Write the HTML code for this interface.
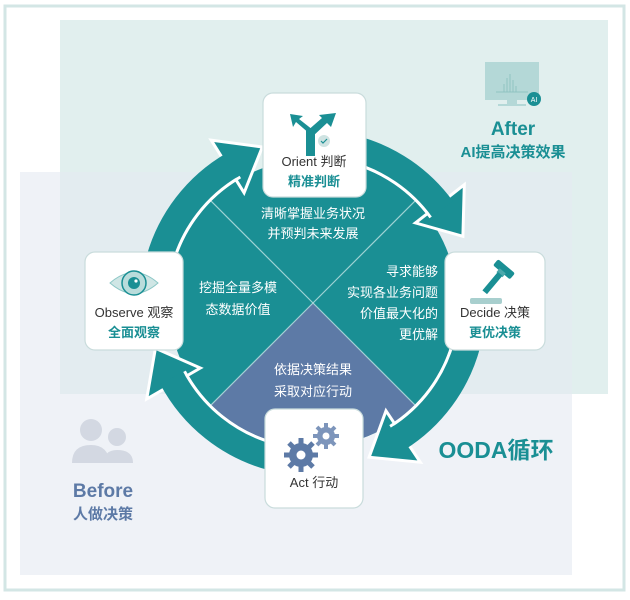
<!DOCTYPE html>
<html><head><meta charset="utf-8"><style>
body{margin:0;width:630px;height:595px;background:#fff;overflow:hidden;font-family:"Liberation Sans","Noto Sans CJK SC",sans-serif}
svg text{font-family:"Liberation Sans","Noto Sans CJK SC",sans-serif}
</style></head><body>
<svg width="630" height="595" viewBox="0 0 630 595" xmlns="http://www.w3.org/2000/svg">
<rect x="5" y="6" width="619" height="584" fill="#fff" stroke="#d3e6e5" stroke-width="3"/>
<rect x="60" y="20" width="548" height="374" fill="#e1efee"/>
<rect x="20" y="172" width="552" height="403" fill="#e4e9f2" fill-opacity="0.6"/>
<!-- disk -->
<circle cx="313" cy="303" r="144" fill="#1a8f94"/>
<path d="M313 303 L414.8 404.8 A144 144 0 0 1 211.2 404.8 Z" fill="#5d7aa6"/>
<g stroke="#bfe3e3" stroke-width="1.2" stroke-opacity="0.8">
<line x1="313" y1="303" x2="211.2" y2="201.2"/><line x1="313" y1="303" x2="414.8" y2="201.2"/>
<line x1="313" y1="303" x2="211.2" y2="404.8"/><line x1="313" y1="303" x2="414.8" y2="404.8"/>
</g>
<!-- arrowheads (white outline) -->
<g fill="#1a8f94" stroke="#ffffff" stroke-width="3" stroke-linejoin="miter">
<polygon points="244.1,192.8 211.2,140.2 262.3,147"/>
<polygon points="415.4,222.9 464.3,184.7 462.9,236.3"/>
<polygon points="386,410.8 420.3,462.2 369.1,457.2"/>
<polygon points="200.4,368 146.7,399 155.4,348.3"/>
</g>
<!-- white gap between ring and disk -->
<g fill="none" stroke="#ffffff" stroke-width="3">
<path d="M172.5 265.3 A145.5 145.5 0 0 1 240.3 177"/>
<path d="M350.7 162.5 A145.5 145.5 0 0 1 430.7 217.4"/>
<path d="M453.5 340.7 A145.5 145.5 0 0 1 390.1 426.4"/>
<path d="M275.3 443.5 A145.5 145.5 0 0 1 184.5 371.3"/>
</g>
<!-- ring arcs -->
<g fill="none" stroke="#1a8f94" stroke-width="26">
<path d="M158.5 261.6 A160 160 0 0 1 233 164.4"/>
<path d="M354.4 148.5 A160 160 0 0 1 442.4 208.9"/>
<path d="M467.5 344.4 A160 160 0 0 1 397.8 438.7"/>
<path d="M271.6 457.5 A160 160 0 0 1 171.7 378.1"/>
</g>
<!-- inner text -->
<g fill="#fff" font-size="13" text-anchor="middle">
<text x="313" y="218">清晰掌握业务状况</text><text x="313" y="238">并预判未来发展</text>
<text x="238" y="292">挖掘全量多模</text><text x="238" y="314">态数据价值</text>
<text x="313" y="374">依据决策结果</text><text x="313" y="396">采取对应行动</text>
</g>
<g fill="#fff" font-size="13" text-anchor="end">
<text x="438" y="276">寻求能够</text><text x="438" y="297">实现各业务问题</text>
<text x="438" y="318">价值最大化的</text><text x="438" y="339">更优解</text>
</g>
<!-- boxes -->
<g fill="#fff" stroke="#c9dcdc" stroke-width="1.2">
<rect x="263" y="93" width="103" height="104" rx="10"/>
<rect x="85" y="252" width="98" height="98" rx="10"/>
<rect x="445" y="252" width="100" height="98" rx="10"/>
<rect x="265" y="409" width="98" height="99" rx="10"/>
</g>
<!-- orient icon -->
<g fill="#1a8f94">
<rect x="306" y="130" width="9" height="26"/>
<polygon points="310,134 296,122 293,127 290,114 303,116 299,119 313,130"/>
<polygon points="306,132 322,118 319,115 336,113 331,127 327,123 312,137"/>
<circle cx="324" cy="141" r="6" fill="#cfe3e2"/>
</g>
<path d="M321 141 l2 2 l4 -4" stroke="#1a8f94" stroke-width="1.2" fill="none"/>
<g font-size="13" text-anchor="middle">
<text x="314" y="166" fill="#333">Orient 判断</text>
<text x="314" y="186" fill="#1a8f94" font-weight="bold">精准判断</text>
<text x="134" y="317" fill="#333">Observe 观察</text>
<text x="134" y="337" fill="#1a8f94" font-weight="bold">全面观察</text>
<text x="495" y="317" fill="#333">Decide 决策</text>
<text x="495" y="337" fill="#1a8f94" font-weight="bold">更优决策</text>
<text x="314" y="487" fill="#333">Act 行动</text>
</g>
<!-- eye -->
<path d="M110 283 Q134 262 158 283 Q134 304 110 283 Z" fill="#cfe6e5" stroke="#8cc7c6"/>
<circle cx="134" cy="283" r="12" fill="#b9dcdb" stroke="#1a8f94" stroke-width="1.5"/>
<circle cx="134" cy="283" r="6" fill="#1a8f94"/>
<circle cx="136" cy="281" r="1.6" fill="#fff"/>
<!-- gavel -->
<g transform="rotate(40 495 280)" fill="#1a8f94">
<rect x="484" y="262" width="22" height="8" rx="2"/>
<rect x="491" y="268" width="8" height="5" fill="#4aa8ab"/>
<rect x="492" y="272" width="6" height="24"/>
</g>
<rect x="470" y="298" width="32" height="6" rx="2" fill="#a8cfce"/>
<!-- gears -->
<g fill="#5d7aa6">
<circle cx="301" cy="455" r="12"/>
<g stroke="#5d7aa6" stroke-width="5">
<line x1="301" y1="438" x2="301" y2="472"/><line x1="284" y1="455" x2="318" y2="455"/>
<line x1="289" y1="443" x2="313" y2="467"/><line x1="313" y1="443" x2="289" y2="467"/>
</g>
<circle cx="301" cy="455" r="4.5" fill="#fff"/>
<circle cx="326" cy="436" r="9" fill="#7d95bb"/>
<g stroke="#7d95bb" stroke-width="4">
<line x1="326" y1="423" x2="326" y2="449"/><line x1="313" y1="436" x2="339" y2="436"/>
<line x1="317" y1="427" x2="335" y2="445"/><line x1="335" y1="427" x2="317" y2="445"/>
</g>
<circle cx="326" cy="436" r="3.5" fill="#fff"/>
</g>
<!-- after -->
<rect x="485" y="62" width="54" height="38" fill="#b4d8d7"/>
<rect x="507" y="100" width="10" height="4" fill="#b4d8d7"/>
<rect x="498" y="104" width="28" height="2" fill="#b4d8d7"/>
<g stroke="#8fc3c2" stroke-width="1"><line x1="496" y1="92" x2="528" y2="92"/><line x1="504" y1="92" x2="504" y2="84"/><line x1="507" y1="92" x2="507" y2="78"/><line x1="510" y1="92" x2="510" y2="74"/><line x1="513" y1="92" x2="513" y2="80"/><line x1="516" y1="92" x2="516" y2="86"/></g>
<circle cx="534" cy="99" r="7" fill="#1a8f94"/>
<text x="534" y="102" font-size="7" fill="#fff" text-anchor="middle">AI</text>
<text x="513" y="135" font-size="19" font-weight="bold" fill="#1a8f94" text-anchor="middle">After</text>
<text x="513" y="157" font-size="15" font-weight="bold" fill="#1a8f94" text-anchor="middle">AI提高决策效果</text>
<!-- before -->
<g fill="#d3d8e2">
<circle cx="91" cy="430" r="11"/><path d="M72 463 Q72 445 91 445 Q108 445 110 463 Z"/>
<circle cx="117" cy="437" r="9"/><path d="M104 463 Q104 450 117 450 Q133 450 133 463 Z"/>
</g>
<text x="103" y="497" font-size="19" font-weight="bold" fill="#5d7aa6" text-anchor="middle">Before</text>
<text x="103" y="519" font-size="15" font-weight="bold" fill="#5d7aa6" text-anchor="middle">人做决策</text>
<text x="496" y="458" font-size="23" font-weight="bold" fill="#1a8f94" text-anchor="middle">OODA循环</text>
</svg>
</body></html>
